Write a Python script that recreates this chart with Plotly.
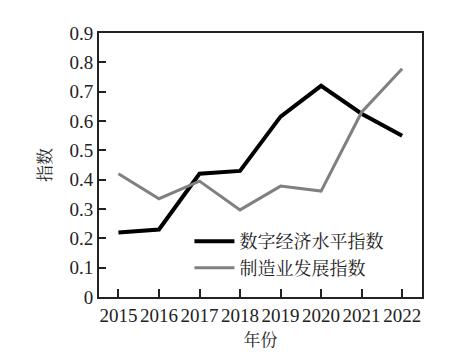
import plotly.graph_objects as go

years = [2015, 2016, 2017, 2018, 2019, 2020, 2021, 2022]
digital = [0.22, 0.23, 0.42, 0.43, 0.615, 0.72, 0.625, 0.55]
manufacturing = [0.42, 0.335, 0.395, 0.297, 0.378, 0.361, 0.63, 0.778]
yticks = [0, 0.1, 0.2, 0.3, 0.4, 0.5, 0.6, 0.7, 0.8, 0.9]
ytick_labels = ["0", "0.1", "0.2", "0.3", "0.4", "0.5", "0.6", "0.7", "0.8", "0.9"]

serif = "Liberation Serif, Times New Roman, serif"
cjk = "Noto Serif CJK SC, Noto Sans CJK SC, serif"

fig = go.Figure()
fig.add_trace(go.Scatter(x=years, y=digital, mode="lines", name="数字经济水平指数",
                         line=dict(color="#000000", width=4)))
fig.add_trace(go.Scatter(x=years, y=manufacturing, mode="lines", name="制造业发展指数",
                         line=dict(color="#808080", width=3)))

fig.update_layout(
    width=450, height=354,
    margin=dict(l=99, r=28, t=33, b=55),
    paper_bgcolor="white", plot_bgcolor="white",
    showlegend=True,
    legend=dict(x=0.28, y=0.28, xanchor="left", yanchor="top",
                bgcolor="rgba(0,0,0,0)", itemwidth=40,
                font=dict(family=cjk, size=18, color="#222"),
                tracegroupgap=0),
    xaxis=dict(range=[2014.52, 2022.49], tickmode="array", tickvals=years,
               ticktext=[str(y) for y in years],
               ticks="inside", ticklen=8, tickwidth=2, tickcolor="#222",
               showline=True, linecolor="#222", linewidth=2, mirror=True,
               showgrid=False, zeroline=False,
               tickfont=dict(family=serif, size=19, color="#222"),
               title=dict(text="年份", font=dict(family=cjk, size=17, color="#222"), standoff=4)),
    yaxis=dict(range=[0, 0.9], tickmode="array", tickvals=yticks, ticktext=ytick_labels,
               ticks="inside", ticklen=7, tickwidth=2, tickcolor="#222",
               showline=True, linecolor="#222", linewidth=2, mirror=True,
               showgrid=False, zeroline=False,
               tickfont=dict(family=serif, size=19, color="#222"),
               title=dict(text="指数", font=dict(family=cjk, size=17, color="#222"), standoff=14)),
)

fig.write_html("out.html")
